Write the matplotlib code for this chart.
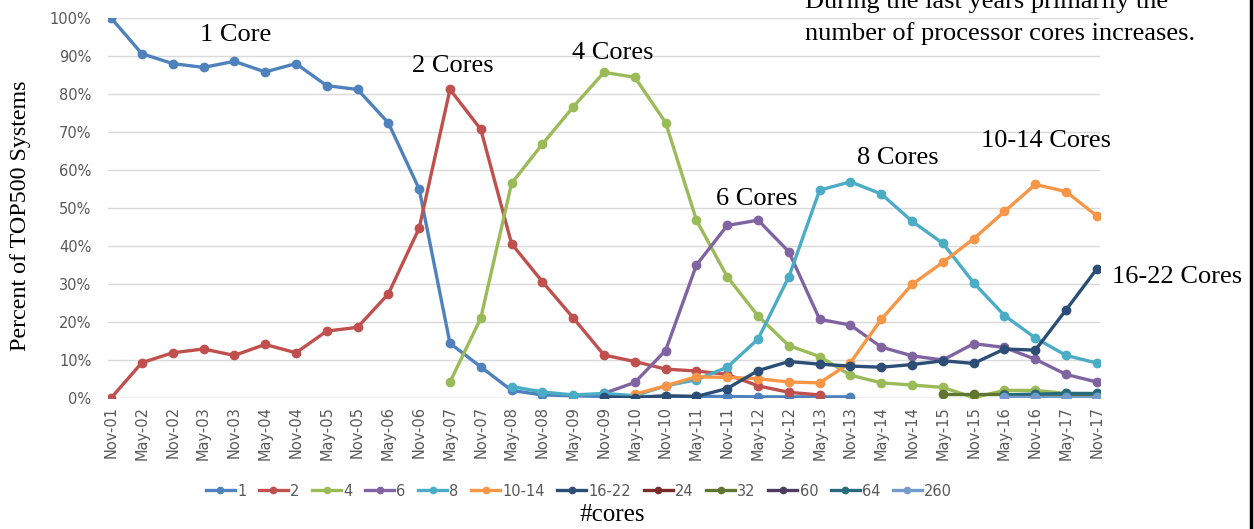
import numpy as np
import matplotlib
matplotlib.use("Agg")
import matplotlib.pyplot as plt
from matplotlib.lines import Line2D

nan = np.nan
dates = ["Nov-01", "May-02", "Nov-02", "May-03", "Nov-03", "May-04", "Nov-04", "May-05",
         "Nov-05", "May-06", "Nov-06", "May-07", "Nov-07", "May-08", "Nov-08", "May-09",
         "Nov-09", "May-10", "Nov-10", "May-11", "Nov-11", "May-12", "Nov-12", "May-13",
         "Nov-13", "May-14", "Nov-14", "May-15", "Nov-15", "May-16", "Nov-16", "May-17", "Nov-17"]

c1 = [100, 90.6, 88.0, 87.0, 88.6, 85.8, 88.0, 82.2, 81.2, 72.4, 55.0, 14.4, 8.2, 2.0, 0.8, 0.6,
      0.4, 0.4, 0.4, 0.4, 0.4, 0.3, 0.3, 0.3, 0.3] + [nan] * 8
c2 = [0, 9.3, 11.9, 12.9, 11.2, 14.1, 11.9, 17.6, 18.6, 27.4, 44.7, 81.2, 70.7, 40.6, 30.6, 21.1,
      11.3, 9.6, 7.6, 7.1, 6.2, 3.2, 1.5, 0.8] + [nan] * 9
c4 = [nan] * 11 + [4.2, 21.0, 56.5, 66.8, 76.6, 85.7, 84.4, 72.5, 46.8, 31.9, 21.6, 13.8, 10.9,
                   6.0, 4.0, 3.4, 2.8, 0.1, 2.0, 2.0, 1.2, 1.1]
c6 = [nan] * 16 + [1.2, 4.1, 12.5, 35.0, 45.4, 46.8, 38.5, 20.7, 19.2, 13.4, 11.1, 10.0, 14.3,
                   13.3, 10.2, 6.2, 4.2]
c8 = [nan] * 13 + [3.0, 1.6, 0.8, 1.2, 0.6, 3.2, 4.8, 8.1, 15.5, 31.9, 54.7, 56.9, 53.7, 46.5,
                   40.7, 30.3, 21.7, 15.8, 11.2, 9.2]
c10_14 = [nan] * 17 + [1.0, 3.2, 5.6, 5.4, 5.1, 4.2, 4.0, 9.3, 20.7, 29.9, 35.7, 41.9, 49.1,
                       56.2, 54.3, 47.9]
c16_22 = [nan] * 16 + [0.3, 0.1, 0.6, 0.4, 2.5, 7.2, 9.6, 8.9, 8.4, 8.1, 8.8, 9.8, 9.1, 12.9,
                       12.6, 23.2, 34.0]
c24 = [nan] * 30 + [0.2, 0.2, 0.2]
c32 = [nan] * 27 + [1.0, 1.0, 1.0, 1.0, 1.0, 1.0]
c60 = [nan] * 31 + [0.2, 0.2]
c64 = [nan] * 29 + [0.8, 1.0, 1.2, 1.2]
c260 = [nan] * 29 + [0.3, 0.3, 0.3, 0.3]

series = [("1", c1, "#4f81bd"), ("2", c2, "#c0504d"), ("4", c4, "#9bbb59"),
          ("6", c6, "#8064a2"), ("8", c8, "#4bacc6"), ("10-14", c10_14, "#f79646"),
          ("16-22", c16_22, "#2c4d75"), ("24", c24, "#772c2a"), ("32", c32, "#5f7530"),
          ("60", c60, "#4d3b62"), ("64", c64, "#276a7c"), ("260", c260, "#729aca")]

W, H = 1254, 529
fig = plt.figure(figsize=(W / 100, H / 100), dpi=100)
ax = fig.add_axes([108 / W, 1 - 398 / H, (1100 - 108) / W, (398 - 18) / H])

x = np.arange(len(dates))
for name, vals, col in series:
    v = np.array(vals, dtype=float) / 100.0
    ax.plot(x, v, color=col, lw=2.4, marker="o", markersize=6, label=name,
            solid_capstyle="round")

ax.set_xlim(-0.1, 32.1)
ax.set_ylim(0, 1.0)
ax.set_yticks(np.arange(0, 1.01, 0.1))
ax.set_yticklabels([f"{int(round(t * 100))}%" for t in np.arange(0, 1.01, 0.1)],
                   fontsize=10.5, color="#595959")
ax.set_xticks(x)
ax.set_xticklabels(dates, rotation=90, fontsize=10.5, color="#595959")
ax.tick_params(axis="x", length=0, pad=6)
ax.tick_params(axis="y", length=0, pad=12)
ax.grid(axis="y", color="#d9d9d9", lw=1)
ax.set_axisbelow(True)
for s in ax.spines.values():
    s.set_visible(False)
ax.axhline(0, color="#d9d9d9", lw=1, zorder=0)

serif = ["Liberation Serif", "DejaVu Serif"]
fig.text(21 / W, 1 - 216 / H, "Percent of TOP500 Systems", rotation=90, fontsize=17.3,
         family=serif, ha="center", va="center")

ann = [("1 Core", 236, 35, "center"), ("2 Cores", 453, 66, "center"),
       ("4 Cores", 613, 53, "center"), ("6 Cores", 757, 199, "center"),
       ("8 Cores", 898, 158, "center"), ("10-14 Cores", 1046, 141, "center"),
       ("16-22 Cores", 1112, 277, "left")]
for t, px, py, ha in ann:
    fig.text(px / W, 1 - py / H, t, fontsize=19, family=serif, ha=ha, va="center")

fig.text(805 / W, 1 - 2 / H, "During the last years primarily the", fontsize=19,
         family=serif, ha="left", va="center")
fig.text(805 / W, 1 - 34 / H, "number of processor cores increases.", fontsize=19,
         family=serif, ha="left", va="center")

handles = [Line2D([0], [0], color=col, lw=2.4, marker="o", markersize=4.5)
           for _, _, col in series]
labels = [n for n, _, _ in series]
leg = fig.legend(handles, labels, loc="center", bbox_to_anchor=(579 / W, 1 - 491 / H),
                 ncol=12, frameon=False, fontsize=10.5, handlelength=2.0,
                 handletextpad=0.15, columnspacing=0.85, borderpad=0)
for t in leg.get_texts():
    t.set_color("#595959")

fig.text(612 / W, 1 - 515 / H, "#cores", fontsize=18, family=serif, ha="center",
         va="center")

fig.add_artist(Line2D([1251 / W, 1251 / W], [0, 1], color="black", lw=2.5,
                      transform=fig.transFigure))

fig.savefig("out.png", dpi=100)
